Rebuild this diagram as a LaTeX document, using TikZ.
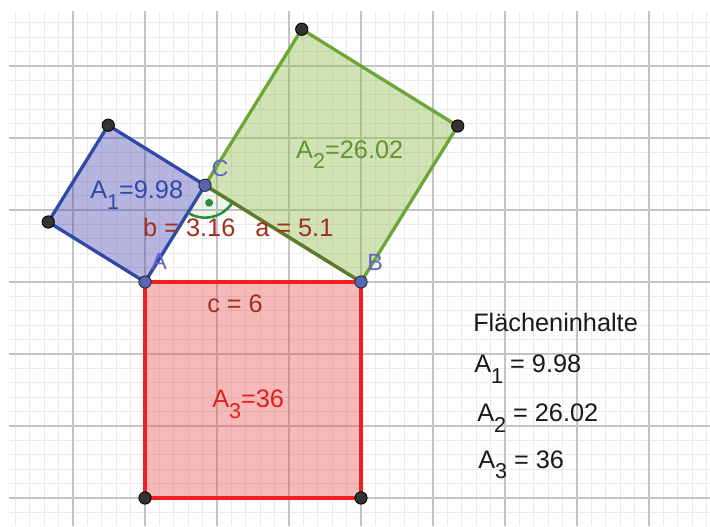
\documentclass[tikz,border=0pt]{standalone}
\usepackage{fontspec}
\setmainfont{Liberation Sans}
\usepackage{xcolor}
\usetikzlibrary{calc}

\definecolor{gridminor}{RGB}{234,234,234}
\definecolor{gridmajor}{RGB}{196,196,196}
\definecolor{sqblue}{RGB}{48,72,168}
\definecolor{sqbluefill}{RGB}{70,70,178}
\definecolor{sqgreen}{RGB}{110,165,55}
\definecolor{sqgreenfill}{RGB}{140,186,72}
\definecolor{sqred}{RGB}{240,32,32}
\definecolor{sqredfill}{RGB}{232,80,80}
\definecolor{sega}{RGB}{96,120,48}
\definecolor{seglabel}{RGB}{160,48,30}
\definecolor{ptlabel}{RGB}{100,100,196}
\definecolor{ptfill}{RGB}{90,100,180}
\definecolor{anglegreen}{RGB}{40,140,60}

\newcommand{\idx}[1]{\raisebox{-0.42em}{\fontsize{17}{17}\selectfont #1}}

\begin{document}
\begin{tikzpicture}[
  minorgrid/.style={draw=gridminor, line width=0.7pt},
  majorgrid/.style={draw=gridmajor, line width=1.1pt},
  bluesq/.style={draw=sqblue, fill=sqbluefill, fill opacity=0.4, line width=2.6pt, line join=round},
  greensq/.style={draw=sqgreen, fill=sqgreenfill, fill opacity=0.4, line width=2.6pt, line join=round},
  redsq/.style={draw=sqred, fill=sqredfill, fill opacity=0.4, line width=2.6pt, line join=round},
  sidea/.style={draw=sega, line width=2.6pt},
  anglemark/.style={draw=anglegreen, line width=2pt},
  vertexdot/.style={fill=black!80, draw=black, line width=0.7pt},
  cornerdot/.style={fill=ptfill, draw=black!85, line width=0.7pt},
  ptname/.style={anchor=base west, inner sep=0pt, text=ptlabel, font=\fontsize{18.5}{22}\selectfont},
  sidename/.style={anchor=base west, inner sep=0pt, text=seglabel, font=\fontsize{20}{24}\selectfont},
  areaname/.style={anchor=base west, inner sep=0pt, font=\fontsize{20}{24}\selectfont},
]

%% ── Canvas and grid ──────────────────────────────────────────────────────────
\useasboundingbox (-4.028,-6.778) rectangle (15.694,7.833);
\fill[white] (-4.028,-6.778) rectangle (15.694,7.833);
\draw[minorgrid, step=0.4] (-3.778,-6.778) grid (15.694,7.528);
\draw[majorgrid, step=2] (-3.778,-6.778) grid (15.694,7.528);

%% ── Triangle corners ─────────────────────────────────────────────────────────
\coordinate (A) at (0,0);
\coordinate (B) at (6,0);
\coordinate (C) at (1.6667,2.6874);

%% ── Square corners ───────────────────────────────────────────────────────────
\coordinate (P1) at ($(A)!1!90:(C)$);
\coordinate (P2) at ($(C)!1!-90:(A)$);
\coordinate (Q1) at ($(C)!1!90:(B)$);
\coordinate (Q2) at ($(B)!1!-90:(C)$);
\coordinate (R1) at (0,-6);
\coordinate (R2) at (6,-6);

%% ── Squares ──────────────────────────────────────────────────────────────────
\draw[redsq] (A) -- (B) -- (R2) -- (R1) -- cycle;
\draw[greensq] (C) -- (Q1) -- (Q2) -- (B) -- cycle;
\draw[bluesq] (A) -- (P1) -- (P2) -- (C) -- cycle;
\draw[sidea] (C) -- (B);

%% ── Right angle at C ─────────────────────────────────────────────────────────
\fill[anglegreen, opacity=0.08] (C) -- ++(238.2:0.9) arc[start angle=238.2, end angle=328.2, radius=0.9] -- cycle;
\draw[anglemark] ($(C)+(238.2:0.9)$) arc[start angle=238.2, end angle=328.2, radius=0.9];
\fill[anglegreen] ($(C)+(283.2:0.5)$) circle (0.11);

%% ── Points ───────────────────────────────────────────────────────────────────
\foreach \p in {P1,P2,Q1,Q2,R1,R2} {
  \filldraw[vertexdot] (\p) circle (0.17);
}
\foreach \p in {A,B,C} {
  \filldraw[cornerdot] (\p) circle (0.17);
}

%% ── Point and side labels ────────────────────────────────────────────────────
\node[ptname] (labA) at (0.17,0.36) {A};
\node[ptname] (labB) at (6.17,0.33) {B};
\node[ptname] (labC) at (1.84,2.92) {C};
\node[sidename] (labb) at (-0.056,1.25) {b = 3.16};
\node[sidename] (laba) at (3.056,1.25) {a = 5.1};
\node[sidename] (labc) at (1.722,-0.861) {c = 6};

%% ── Area labels ──────────────────────────────────────────────────────────────
\node[areaname, text=sqblue] (areaA1) at (-1.528,2.306) {A\idx{1}=9.98};
\node[areaname, text=sqgreen!90!black] (areaA2) at (4.194,3.444) {A\idx{2}=26.02};
\node[areaname, text=sqred!95!black] (areaA3) at (1.861,-3.5) {A\idx{3}=36};

%% ── Area list ────────────────────────────────────────────────────────────────
\node[areaname, text=black!90] (listtitle) at (9.111,-1.389) {Flächeninhalte};
\node[areaname, text=black!90] (listA1) at (9.139,-2.528) {A\idx{1} = 9.98};
\node[areaname, text=black!90] (listA2) at (9.222,-3.889) {A\idx{2} = 26.02};
\node[areaname, text=black!90] (listA3) at (9.25,-5.167) {A\idx{3} = 36};

\end{tikzpicture}
\end{document}
